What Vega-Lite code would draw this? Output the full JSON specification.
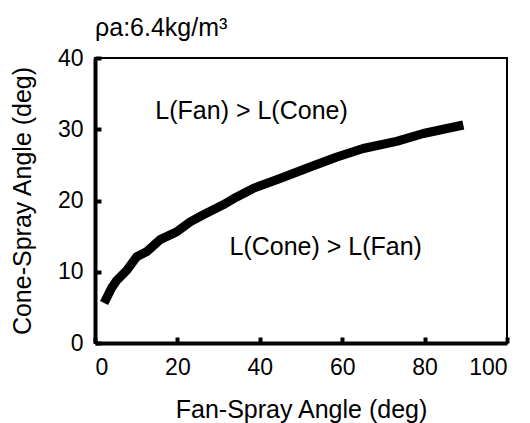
{
  "$schema": "https://vega.github.io/schema/vega-lite/v6.json",
  "width": 412,
  "height": 285,
  "autosize": "none",
  "padding": {"left": 95, "top": 58, "right": 23, "bottom": 80},
  "background": "white",
  "config": {
    "font": "Liberation Sans",
    "view": {"stroke": "black", "strokeWidth": 2},
    "axis": {
      "domainColor": "black",
      "domainWidth": 4,
      "tickColor": "black",
      "tickWidth": 4,
      "tickSize": -6,
      "grid": false,
      "labelColor": "black",
      "labelFontSize": 23,
      "titleColor": "black",
      "titleFontSize": 25,
      "titleFontWeight": "normal"
    }
  },
  "title": {
    "text": "ρa:6.4kg/m³",
    "anchor": "start",
    "frame": "group",
    "baseline": "alphabetic",
    "offset": -14,
    "fontSize": 25,
    "fontWeight": "normal",
    "color": "black"
  },
  "layer": [
    {
      "data": {
        "values": [
          {"fan": 2.2, "cone": 5.6},
          {"fan": 4.0, "cone": 7.7},
          {"fan": 5.3, "cone": 8.8},
          {"fan": 7.7, "cone": 10.2},
          {"fan": 10.1, "cone": 12.1},
          {"fan": 12.5, "cone": 12.8},
          {"fan": 15.8, "cone": 14.5},
          {"fan": 19.8, "cone": 15.6},
          {"fan": 23.1, "cone": 17.0},
          {"fan": 26.3, "cone": 18.0},
          {"fan": 31.1, "cone": 19.4},
          {"fan": 34.4, "cone": 20.5},
          {"fan": 38.4, "cone": 21.7},
          {"fan": 44.9, "cone": 23.1},
          {"fan": 52.2, "cone": 24.7},
          {"fan": 58.7, "cone": 26.1},
          {"fan": 65.1, "cone": 27.3},
          {"fan": 73.2, "cone": 28.3},
          {"fan": 79.7, "cone": 29.4},
          {"fan": 89.4, "cone": 30.6}
        ]
      },
      "mark": {"type": "line", "color": "black", "strokeWidth": 9, "strokeCap": "butt", "strokeJoin": "round"},
      "encoding": {
        "x": {
          "field": "fan",
          "type": "quantitative",
          "scale": {"domain": [0, 100], "nice": false},
          "axis": {
            "values": [0, 20, 40, 60, 80, 100],
            "labelPadding": 19,
            "title": "Fan-Spray Angle (deg)",
            "titlePadding": 18
          }
        },
        "y": {
          "field": "cone",
          "type": "quantitative",
          "scale": {"domain": [0, 40], "nice": false},
          "axis": {
            "values": [0, 10, 20, 30, 40],
            "labelPadding": 18,
            "title": "Cone-Spray Angle (deg)",
            "titlePadding": 22
          }
        }
      }
    },
    {
      "data": {"values": [{"region": "L(Fan) > L(Cone)", "fan": 38.0, "cone": 32.6}, {"region": "L(Cone) > L(Fan)", "fan": 56.0, "cone": 13.5}]},
      "mark": {"type": "text", "fontSize": 25, "color": "black", "align": "center", "baseline": "middle"},
      "encoding": {
        "x": {"field": "fan", "type": "quantitative"},
        "y": {"field": "cone", "type": "quantitative"},
        "text": {"field": "region"}
      }
    }
  ]
}
